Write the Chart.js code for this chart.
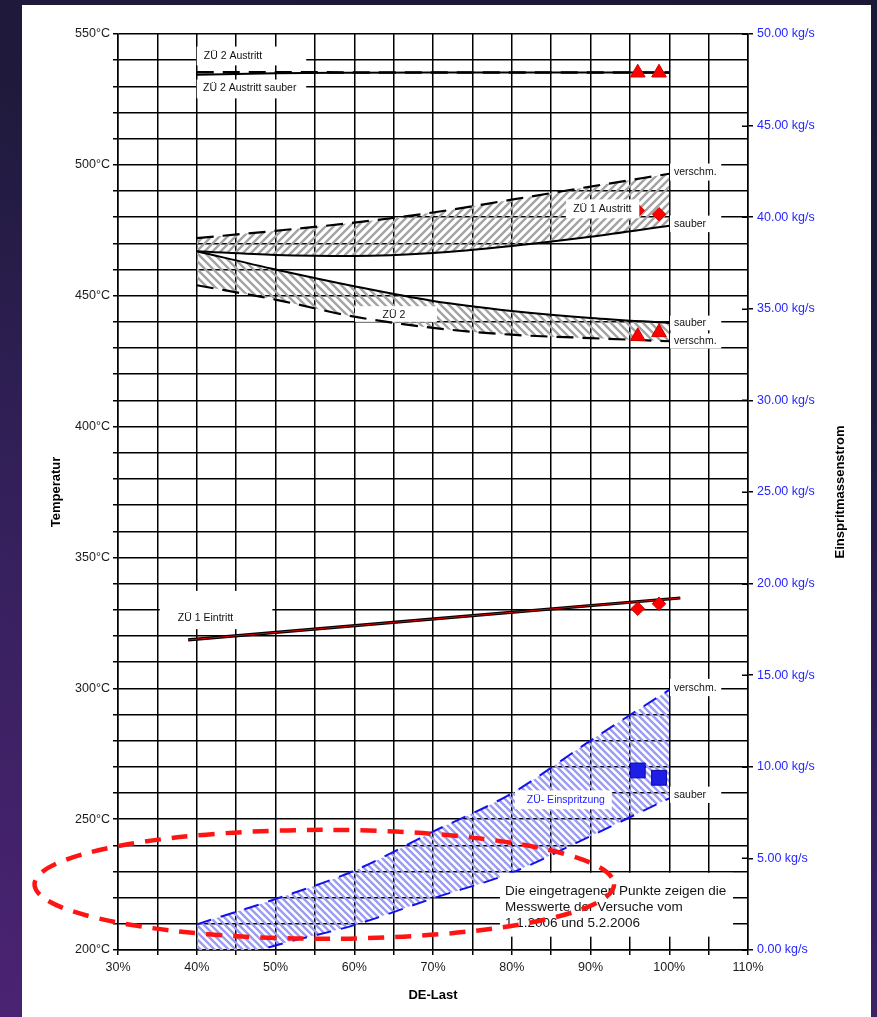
<!DOCTYPE html>
<html>
<head>
<meta charset="utf-8">
<title>ZÜ-Temperaturen über DE-Last</title>
<script src="https://cdn.jsdelivr.net/npm/chart.js@4.4.1/dist/chart.umd.min.js"></script>
<style>
  html, body { margin: 0; padding: 0; width: 877px; height: 1017px; overflow: hidden; }
  body { background: linear-gradient(20deg, #4b2373 0%, #33205a 40%, #1f1a3c 70%, #1b1835 100%); position: relative; }
  #panel { position: absolute; left: 22px; top: 5px; width: 849px; height: 1012px; background: #ffffff; }
  #chart { position: absolute; left: 0; top: 0; }
</style>
</head>
<body>
<div id="panel"></div>
<canvas id="chart" width="877" height="1017"></canvas>
<script>
// ---- Werte ----------------------------------------------------------
// DE-Last in %
const loadPct = [40, 50, 60, 70, 80, 90, 100];

// ZÜ 2 Austritt (°C)
const zu2AustrittVerschm = [535.4, 535.4, 535.3, 535.3, 535.3, 535.3, 535.3];
const zu2AustrittSauber  = [534.4, 535.0, 535.2, 535.3, 535.3, 535.3, 535.3];

// ZÜ 1 Austritt (°C)
const zu1AustrittVerschm = [472.0, 474.8, 477.9, 481.8, 486.7, 491.7, 496.6];
const zu1AustrittSauber  = [467.0, 465.6, 465.2, 466.3, 469.0, 472.5, 476.7];

// ZÜ 2 (°C)
const zu2Sauber  = [467.0, 460.0, 453.6, 448.0, 444.2, 441.5, 439.6];
const zu2Verschm = [454.0, 448.5, 442.0, 437.7, 435.1, 433.8, 432.6];

// ZÜ 1 Eintritt (°C)
const zu1EintrittLoad = [38.9, 101.4];
const zu1Eintritt     = [318.5, 334.5];

// ZÜ-Einspritzung (kg/s)
const einspritzVerschm = [1.40, 2.78, 4.33, 6.46, 8.55, 11.43, 14.20];
const einspritzSauber  = [-1.10, 0.25, 1.36, 2.82, 4.22, 6.22, 8.28];

// Messwerte der Versuche
const messLoad        = [96.0, 98.7];
const messZu2Austritt = [535.2, 535.2];
const messZu1Austritt = [482.6, 481.1];
const messZu2         = [434.5, 436.0];
const messZu1Eintritt = [330.4, 332.3];
const messEinspritz   = [9.8, 9.4];

// Achsenbeschriftungen
const loadTicks = [30, 40, 50, 60, 70, 80, 90, 100, 110];
const tempTicks = [200, 250, 300, 350, 400, 450, 500, 550];
const massTicks = [0, 5, 10, 15, 20, 25, 30, 35, 40, 45, 50];

// ---- Hilfsfunktionen ------------------------------------------------
const FONT = "'Liberation Sans', Arial, sans-serif";
const pts = (xs, ys) => xs.map((x, i) => ({ x, y: ys[i] }));

const canvas = document.getElementById('chart');
const ctx = canvas.getContext('2d');

// Schraffur-Kachel: diagonale Linien, über die Kachelränder hinaus gezogen
function hatch(color, dir, size, width) {
  const c = document.createElement('canvas');
  c.width = c.height = size;
  const g = c.getContext('2d');
  g.strokeStyle = color;
  g.lineWidth = width;
  g.beginPath();
  for (let k = -1; k <= 2; k++) {
    const o = k * size;
    if (dir === '/') { g.moveTo(-size, o + size); g.lineTo(2 * size, o - 2 * size); }
    else { g.moveTo(-size, o - 2 * size); g.lineTo(2 * size, o + size); }
  }
  g.stroke();
  return ctx.createPattern(c, 'repeat');
}

const grayUp   = hatch('#a4a4a4', '/', 8, 2.4);
const grayDown = hatch('#a4a4a4', '\\', 8, 2.4);
const blueDown = hatch('#9c9cf4', '\\', 7, 2.4);

const DASH_BLACK = [17, 9];
const DASH_BLUE = [15, 10];

function lineSet(label, xs, ys, opts) {
  return Object.assign({
    label, data: pts(xs, ys), xAxisID: 'x', yAxisID: 'y',
    borderColor: '#000', borderWidth: 2, pointRadius: 0,
    cubicInterpolationMode: 'monotone', fill: false, order: 2
  }, opts);
}

function markerSet(label, ys, style, color, radius, axis) {
  return {
    label, data: pts(messLoad, ys), xAxisID: 'x', yAxisID: axis || 'y',
    showLine: false, pointStyle: style, pointRadius: radius,
    pointBackgroundColor: color.fill, pointBorderColor: color.edge,
    pointBorderWidth: 1, order: 0
  };
}

const RED = { fill: '#ff0000', edge: '#d00000' };
const BLUE = { fill: '#1e1ee6', edge: '#0a0aa8' };

// ---- Beschriftungen im Diagramm ------------------------------------
// box: [x von, x bis, T oben, T unten], at: [x, T] Textanfang
const labelBoxes = [
  { text: 'ZÜ 2 Austritt',        at: [40.9, 541.6], box: [40.0, 53.9, 545.2, 538.0], layer: 'under' },
  { text: 'ZÜ 2 Austritt sauber', at: [40.8, 529.2], box: [40.0, 53.9, 532.6, 525.4], layer: 'under' },
  { text: 'verschm.',             at: [100.6, 497.3], box: [100.1, 106.6, 500.5, 494.0], layer: 'under' },
  { text: 'sauber',               at: [100.6, 477.4], box: [100.1, 106.6, 480.6, 474.3], layer: 'under' },
  { text: 'ZÜ 1 Austritt',        at: [87.8, 483.2], box: [86.9, 96.2, 486.8, 479.6], layer: 'over' },
  { text: 'ZÜ 2',                 at: [63.6, 442.7], box: [60.1, 70.5, 446.0, 440.0], layer: 'under' },
  { text: 'sauber',               at: [100.6, 439.6], box: [100.1, 106.6, 442.4, 436.8], layer: 'under' },
  { text: 'verschm.',             at: [100.6, 432.7], box: [100.1, 106.6, 435.6, 429.8], layer: 'under' },
  { text: 'ZÜ 1 Eintritt',        at: [37.6, 326.9], box: [35.3, 49.6, 337.2, 322.6], layer: 'under' },
  { text: 'verschm.',             at: [100.6, 300.2], box: [100.1, 106.6, 303.6, 297.0], layer: 'under' },
  { text: 'sauber',               at: [100.6, 259.3], box: [100.1, 106.6, 262.4, 256.2], layer: 'under' },
  { text: 'ZÜ- Einspritzung',     at: [81.9, 257.4], box: [80.4, 92.7, 261.0, 253.8], layer: 'under', color: '#2424ff' }
];

const noteLines = [
  'Die eingetragenen Punkte zeigen die',
  'Messwerte der Versuche vom',
  '1.1.2006 und 5.2.2006'
];
const noteBox = [78.5, 108.1, 229.5, 205.1];

// Markierung der Versuchspunkte (Ellipse): Mitte [x, T], Halbachsen [x, T]
const markCenter = [56.2, 225.1];
const markRadius = [36.8, 20.8];

function drawBox(c, chart, b) {
  const sx = chart.scales.x, sy = chart.scales.y;
  const x1 = sx.getPixelForValue(b.box[0]), x2 = sx.getPixelForValue(b.box[1]);
  const y1 = sy.getPixelForValue(b.box[2]), y2 = sy.getPixelForValue(b.box[3]);
  c.fillStyle = '#fff';
  c.fillRect(x1, y1, x2 - x1, y2 - y1);
  c.fillStyle = b.color || '#111';
  c.font = '10.5px ' + FONT;
  c.textAlign = 'left';
  c.textBaseline = 'middle';
  c.fillText(b.text, sx.getPixelForValue(b.at[0]), sy.getPixelForValue(b.at[1]));
}

const annotations = {
  id: 'annotations',
  beforeDatasetsDraw(chart) {
    const c = chart.ctx;
    c.save();
    labelBoxes.filter(b => b.layer === 'under').forEach(b => drawBox(c, chart, b));
    c.restore();
  },
  afterDatasetsDraw(chart) {
    const c = chart.ctx;
    const sx = chart.scales.x, sy = chart.scales.y, s2 = chart.scales.y2;
    c.save();
    labelBoxes.filter(b => b.layer === 'over').forEach(b => drawBox(c, chart, b));

    // innere Teilstriche der rechten Achse
    c.strokeStyle = '#000';
    c.lineWidth = 1.5;
    c.beginPath();
    massTicks.forEach(v => {
      const y = Math.round(s2.getPixelForValue(v)) + 0.25;
      c.moveTo(s2.left - 6, y);
      c.lineTo(s2.left, y);
    });
    c.stroke();

    // Hinweistext
    const nx1 = sx.getPixelForValue(noteBox[0]), nx2 = sx.getPixelForValue(noteBox[1]);
    const ny1 = sy.getPixelForValue(noteBox[2]), ny2 = sy.getPixelForValue(noteBox[3]);
    c.fillStyle = '#fff';
    c.fillRect(nx1, ny1, nx2 - nx1, ny2 - ny1);
    c.fillStyle = '#141414';
    c.font = '13.5px ' + FONT;
    c.textAlign = 'left';
    c.textBaseline = 'middle';
    noteLines.forEach((t, i) => c.fillText(t, nx1 + 5, ny1 + 18 + i * 16));

    // rote Ellipse um die Messpunkte
    const cx = sx.getPixelForValue(markCenter[0]);
    const cy = sy.getPixelForValue(markCenter[1]);
    const rx = Math.abs(sx.getPixelForValue(markCenter[0] + markRadius[0]) - cx);
    const ry = Math.abs(sy.getPixelForValue(markCenter[1] + markRadius[1]) - cy);
    c.strokeStyle = '#ff1414';
    c.lineWidth = 4.5;
    c.setLineDash([16, 11]);
    c.beginPath();
    c.ellipse(cx, cy, rx, ry, 0, 0, Math.PI * 2);
    c.stroke();
    c.setLineDash([]);

    // Titel der rechten Achse
    c.fillStyle = '#000';
    c.font = 'bold 13px ' + FONT;
    c.textAlign = 'center';
    c.textBaseline = 'middle';
    c.translate(840, (chart.chartArea.top + chart.chartArea.bottom) / 2);
    c.rotate(-Math.PI / 2);
    c.fillText('Einspritmassenstrom', 0, 0);
    c.restore();
  }
};

// ---- Diagramm -------------------------------------------------------
const datasets = [
  markerSet('ZÜ 2 Austritt Messwert', messZu2Austritt, 'triangle', RED, 8.5),
  markerSet('ZÜ 1 Austritt Messwert', messZu1Austritt, 'rectRot', RED, 6.8),
  markerSet('ZÜ 2 Messwert', messZu2, 'triangle', RED, 8.5),
  markerSet('ZÜ 1 Eintritt Messwert', messZu1Eintritt, 'rectRot', RED, 6.8),
  markerSet('ZÜ-Einspritzung Messwert', messEinspritz, 'rect', BLUE, 10.5, 'y2'),

  lineSet('ZÜ 1 Eintritt rot', zu1EintrittLoad, zu1Eintritt, { borderColor: '#e00000', borderWidth: 1, order: 1 }),
  lineSet('ZÜ 1 Eintritt', zu1EintrittLoad, zu1Eintritt, { borderWidth: 3.2 }),

  lineSet('ZÜ 2 Austritt', loadPct, zu2AustrittVerschm, { borderWidth: 2.6, borderDash: DASH_BLACK }),
  lineSet('ZÜ 2 Austritt sauber', loadPct, zu2AustrittSauber, { borderWidth: 2 }),

  lineSet('ZÜ 1 Austritt verschm.', loadPct, zu1AustrittVerschm, { borderWidth: 2.2, borderDash: DASH_BLACK, fill: '+1', backgroundColor: grayUp }),
  lineSet('ZÜ 1 Austritt sauber', loadPct, zu1AustrittSauber, { borderWidth: 2 }),

  lineSet('ZÜ 2 sauber', loadPct, zu2Sauber, { borderWidth: 2, fill: '+1', backgroundColor: grayDown }),
  lineSet('ZÜ 2 verschm.', loadPct, zu2Verschm, { borderWidth: 2.2, borderDash: DASH_BLACK }),

  lineSet('ZÜ-Einspritzung verschm.', loadPct, einspritzVerschm, { yAxisID: 'y2', borderColor: '#1212f0', borderWidth: 2, borderDash: DASH_BLUE, fill: '+1', backgroundColor: blueDown }),
  lineSet('ZÜ-Einspritzung sauber', loadPct, einspritzSauber, { yAxisID: 'y2', borderColor: '#1212f0', borderWidth: 2, borderDash: DASH_BLUE })
];

const tickFont = { family: FONT, size: 12.5 };
const titleFont = { family: FONT, size: 13, weight: 'bold' };

new Chart(ctx, {
  type: 'line',
  data: { datasets },
  options: {
    responsive: false,
    animation: false,
    events: [],
    layout: { padding: { left: 48, right: 30, top: 34, bottom: 0 } },
    plugins: {
      legend: { display: false },
      tooltip: { enabled: false },
      filler: { drawTime: 'beforeDatasetsDraw' }
    },
    scales: {
      x: {
        type: 'linear', min: 30, max: 110,
        afterFit: s => { s.height = 67; },
        ticks: {
          stepSize: 5, autoSkip: false, maxRotation: 0, padding: 5,
          color: '#1a1a1a', font: tickFont,
          callback: v => loadTicks.includes(v) ? v + '%' : ''
        },
        grid: { color: '#000', lineWidth: 1.5, tickLength: 5, tickColor: '#000' },
        border: { color: '#000', width: 1.5 },
        title: { display: true, text: 'DE-Last', color: '#000', font: titleFont, padding: { top: 4, bottom: 14 } }
      },
      y: {
        type: 'linear', position: 'left', min: 200, max: 550,
        afterFit: s => { s.width = 70; },
        ticks: {
          stepSize: 10, autoSkip: false, padding: 3,
          color: '#1a1a1a', font: tickFont,
          callback: v => tempTicks.includes(v) ? v + '°C' : ''
        },
        grid: { color: '#000', lineWidth: 1.5, tickLength: 5, tickColor: '#000' },
        border: { color: '#000', width: 1.5 },
        title: { display: true, text: 'Temperatur', color: '#000', font: titleFont, padding: { top: 1, bottom: 0 } }
      },
      y2: {
        type: 'linear', position: 'right', min: 0, max: 50,
        afterFit: s => { s.width = 99; },
        ticks: {
          stepSize: 5, autoSkip: false, padding: 4,
          color: '#2626ff', font: tickFont,
          callback: v => massTicks.includes(v) ? v.toFixed(2) + ' kg/s' : ''
        },
        grid: { drawOnChartArea: false, color: '#000', lineWidth: 1.5, tickLength: 5, tickColor: '#000' },
        border: { color: '#000', width: 1.5 }
      }
    }
  },
  plugins: [annotations]
});
</script>
</body>
</html>
